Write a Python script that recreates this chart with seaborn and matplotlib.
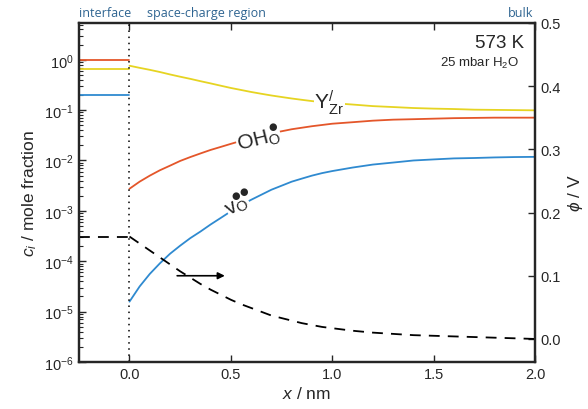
import numpy as np
import pandas as pd
import matplotlib
matplotlib.use('Agg')
import matplotlib.pyplot as plt
import seaborn as sns

# distance from interface / nm
x_scr = [0.0, 0.05, 0.1, 0.15, 0.2, 0.25, 0.3, 0.35, 0.4, 0.45, 0.5, 0.55, 0.6, 0.65,
         0.7, 0.75, 0.8, 0.85, 0.9, 0.95, 1.0,
         1.1, 1.2, 1.3, 1.4, 1.5, 1.6, 1.7, 1.8, 1.9, 2.0]
x_int = [-0.25, 0.0]

# space-charge concentrations (mole fraction)
c_Y = [0.76, 0.69, 0.63, 0.57, 0.51, 0.46, 0.417, 0.375, 0.339, 0.305, 0.275, 0.251,
       0.229, 0.211, 0.195, 0.182, 0.170, 0.160, 0.151, 0.144, 0.138,
       0.129, 0.120, 0.115, 0.110, 0.107, 0.105, 0.102, 0.101, 0.100, 0.099]
c_OH = [2.75e-3, 3.8e-3, 5.0e-3, 6.4e-3, 7.9e-3, 9.8e-3, 1.17e-2, 1.38e-2, 1.62e-2,
        1.86e-2, 2.14e-2, 2.45e-2, 2.75e-2, 3.09e-2, 3.47e-2, 3.80e-2, 4.17e-2,
        4.47e-2, 4.79e-2, 5.07e-2, 5.37e-2,
        5.75e-2, 6.17e-2, 6.46e-2, 6.6e-2, 6.76e-2, 6.92e-2, 7.0e-2, 7.08e-2,
        7.08e-2, 7.08e-2]
c_v = [1.58e-5, 3.16e-5, 5.6e-5, 9.1e-5, 1.41e-4, 2.04e-4, 2.88e-4, 3.89e-4, 5.37e-4,
       7.24e-4, 9.8e-4, 1.29e-3, 1.66e-3, 2.09e-3, 2.63e-3, 3.16e-3, 3.80e-3,
       4.37e-3, 5.01e-3, 5.62e-3, 6.17e-3,
       7.24e-3, 8.3e-3, 9.1e-3, 1.0e-2, 1.05e-2, 1.10e-2, 1.12e-2, 1.15e-2,
       1.17e-2, 1.18e-2]

# interface concentrations
ci_Y = [0.65, 0.65]
ci_OH = [1.0, 1.0]
ci_v = [0.2, 0.2]

# potential / V
phi_int = [0.162, 0.162]
phi_scr = [0.162, 0.151, 0.140, 0.129, 0.118, 0.107, 0.097, 0.087, 0.078, 0.070, 0.062,
           0.055, 0.049, 0.043, 0.037, 0.033, 0.029, 0.025, 0.022, 0.019, 0.017,
           0.013, 0.010, 0.008, 0.006, 0.005, 0.004, 0.003, 0.002, 0.001, 0.000]

red = '#e4562a'
yellow = '#e6d422'
blue = '#2f8ad0'
note_col = '#2e6491'

sns.set_style('ticks')
plt.rcParams['font.family'] = ['Liberation Sans', 'DejaVu Sans']
plt.rcParams['mathtext.fontset'] = 'custom'
plt.rcParams['mathtext.rm'] = 'Liberation Sans'
plt.rcParams['mathtext.it'] = 'Liberation Sans:italic'

fig = plt.figure(figsize=(5.88, 4.10), dpi=100)
ax = fig.add_axes([0.134, 0.1146, 0.776, 0.827])
ax2 = ax.twinx()

df = pd.DataFrame({'x': x_scr, 'Y': c_Y, 'OH': c_OH, 'v': c_v, 'phi': phi_scr})
di = pd.DataFrame({'x': x_int, 'Y': ci_Y, 'OH': ci_OH, 'v': ci_v, 'phi': phi_int})

lw = 1.3
for col, color in [('Y', yellow), ('OH', red), ('v', blue)]:
    sns.lineplot(data=df, x='x', y=col, color=color, lw=lw, ax=ax)
    sns.lineplot(data=di, x='x', y=col, color=color, lw=lw, ax=ax)

for d in (di, df):
    sns.lineplot(data=d, x='x', y='phi', color='black', lw=lw, ax=ax2,
                 linestyle=(0, (6, 4.5)))

ax.axvline(0, color='black', lw=1.1, linestyle=(0, (1, 3)))

ax.set_yscale('log')
ax.set_xlim(-0.25, 2.0)
ax.set_ylim(1e-6, 10 ** 0.73)
ax2.set_ylim(-0.0365, 0.5)
ax.set_xticks([0.0, 0.5, 1.0, 1.5, 2.0])
ax.xaxis.set_major_formatter(matplotlib.ticker.FormatStrFormatter('%.1f'))
ax2.set_yticks([0.0, 0.1, 0.2, 0.3, 0.4, 0.5])
ax2.yaxis.set_major_formatter(matplotlib.ticker.FormatStrFormatter('%.1f'))
ax.yaxis.set_major_locator(matplotlib.ticker.LogLocator(base=10, numticks=10))
ax.yaxis.set_minor_locator(matplotlib.ticker.LogLocator(base=10, subs=np.arange(2, 10), numticks=20))
ax.yaxis.set_minor_formatter(matplotlib.ticker.NullFormatter())

ax.tick_params(axis='both', which='major', direction='in', length=5, width=1,
               labelsize=10.5, top=True, right=False)
ax.tick_params(axis='y', which='minor', direction='in', length=3, width=0.8)
ax.tick_params(axis='x', which='minor', bottom=False, top=False)
ax2.tick_params(axis='y', which='major', direction='in', length=5, width=1, labelsize=10.5)

for a in (ax, ax2):
    for s in a.spines.values():
        s.set_linewidth(1.6)
        s.set_visible(True)

ax.set_xlabel('$x$ / nm', fontsize=12.5, labelpad=3)
ax.set_ylabel('$c_i$ / mole fraction', fontsize=12.5, labelpad=4)
ax2.set_xlabel('')
ax2.set_ylabel(r'$\phi$ / V', fontsize=12.5, labelpad=4, rotation=90)

# species labels on curves (Kroger-Vink)
bb = dict(facecolor='white', edgecolor='none', pad=0.3)
ax.text(0.985, 0.148, r'$\mathrm{Y}^{/}_{\mathrm{Zr}}$', fontsize=15, ha='center',
        va='center', bbox=bb, zorder=5)

ax.text(0.637, 0.026, r'$\mathrm{OH}_{\mathrm{O}}$', fontsize=15, ha='center',
        va='center', rotation=14, bbox=bb, zorder=5)
ax.annotate('●', xy=(0.637, 0.026), xytext=(10, 10), textcoords='offset points',
            fontsize=7, ha='center', va='center', family='DejaVu Sans', zorder=6)

ax.text(0.533, 1.26e-3, r'$\mathrm{v}_{\mathrm{O}}$', fontsize=15, ha='center',
        va='center', rotation=30, bbox=bb, zorder=5)
for off in [(-1.5, 7.5), (4.3, 11)]:
    ax.annotate('●', xy=(0.533, 1.26e-3), xytext=off, textcoords='offset points',
                fontsize=7, ha='center', va='center', family='DejaVu Sans', zorder=6)

# conditions
ax.text(0.975, 0.968, '573 K', transform=ax.transAxes, fontsize=13.5, ha='right', va='top')
ax.text(0.965, 0.906, '25 mbar H$_2$O', transform=ax.transAxes, fontsize=9.5,
        ha='right', va='top')

# arrow pointing at the potential axis
ax2.annotate('', xy=(0.47, 0.1), xytext=(0.235, 0.1),
             arrowprops=dict(arrowstyle='-|>', color='black', lw=1.2,
                             mutation_scale=10, shrinkA=0, shrinkB=0))

# region labels above the plot
for xpos, txt, ha in [(-0.25, 'interface', 'left'), (0.085, 'space-charge region', 'left'),
                      (1.99, 'bulk', 'right')]:
    ax.text(xpos, 1.012, txt, transform=ax.get_xaxis_transform(), ha=ha, va='bottom',
            fontsize=9, color=note_col, family=['Open Sans', 'DejaVu Sans'])

fig.savefig('out.png', dpi=100)
